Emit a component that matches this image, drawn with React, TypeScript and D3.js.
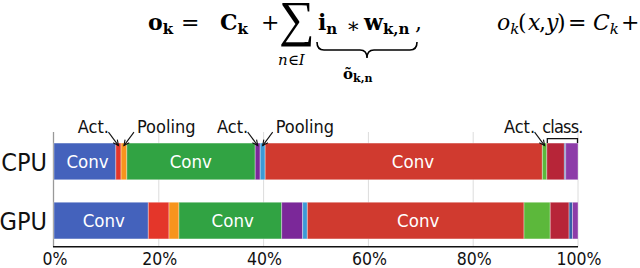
import React from "react";
import * as d3 from "d3";

const categories = ["CPU", "GPU"];
const segmentNames = ["Conv", "Act.", "Pooling", "Conv", "Act.", "Pooling", "Conv", "Act.", "FC", "Drop", "Softmax"];
const cpuValues = [11.8, 1.0, 1.1, 24.5, 0.95, 0.95, 52.9, 0.85, 3.35, 0.25, 2.35];
const gpuValues = [18.0, 3.95, 1.9, 19.6, 4.0, 0.9, 41.35, 5.0, 3.6, 0.65, 1.05];
const segmentColors = ["#4462BC", "#E4362A", "#F7941D", "#31A343", "#7B2899", "#3C9AD5", "#D03A2F", "#5CB83B", "#B72538", "#3761A8", "#8D3CA8"];
const convLabelPosCPU = [6.4, 26.1, 68.5];
const convLabelPosGPU = [9.5, 34.1, 69.5];
const xTicks = [0, 20, 40, 60, 80, 100];
const tickLabels = ["0%", "20%", "40%", "60%", "80%", "100%"];
// annotations on the CPU bar: segment index, side of label (-1 left, +1 right)
const annotations = [
  { label: "Act.", seg: 1, side: -1 },
  { label: "Pooling", seg: 2, side: 1 },
  { label: "Act.", seg: 4, side: -1 },
  { label: "Pooling", seg: 5, side: 1 },
  { label: "Act.", seg: 7, side: -1 },
];
const bracketLabel = "class.";
const bracketFrom = 8;

const W = 640;
const H = 268;
const sans = "'DejaVu Sans Condensed', 'DejaVu Sans', sans-serif";
const serif = "'DejaVu Serif', 'Liberation Serif', serif";

function stack(values: number[]) {
  let acc = 0;
  return values.map((v, i) => {
    const s = { start: acc, end: acc + v, i };
    acc += v;
    return s;
  });
}

export default function App() {
  const x = d3.scaleLinear().domain([0, 100]).range([54, 578]);
  const y = d3.scaleBand<string>().domain(categories).range([133, 249]).paddingInner(0.38).paddingOuter(0.17);
  const rows = [
    { cat: "CPU", segs: stack(cpuValues), labels: convLabelPosCPU },
    { cat: "GPU", segs: stack(gpuValues), labels: convLabelPosGPU },
  ];
  const cpuSegs = rows[0].segs;
  const cpuTop = y("CPU")!;
  const axisY = 246.7;
  const gridTop = 132;

  const arrowHead = (x1: number, y1: number, x2: number, y2: number) => {
    const a = Math.atan2(y2 - y1, x2 - x1);
    const L = 6;
    const sp = 0.45;
    const p1 = [x2 - L * Math.cos(a - sp), y2 - L * Math.sin(a - sp)];
    const p2 = [x2 - L * Math.cos(a + sp), y2 - L * Math.sin(a + sp)];
    return `M${p1[0]},${p1[1]} L${x2},${y2} L${p2[0]},${p2[1]}`;
  };

  const bx0 = x(cpuSegs[bracketFrom].start) + 0.5;
  const bx1 = x(100) - 0.5;
  const fs = 22;
  const sub = 15;

  return (
    <svg width={W} height={H} style={{ position: "absolute", left: 0, top: 0, background: "#fff" }}>
      {/* Formula */}
      <g fontFamily={serif} fill="#000">
        <text x={148} y={30} fontSize={fs} fontWeight="bold">o<tspan fontSize={sub} dy={4}>k</tspan></text>
        <text x={181} y={30} fontSize={fs}>=</text>
        <text x={220} y={30} fontSize={fs} fontWeight="bold">C<tspan fontSize={sub} dy={4}>k</tspan></text>
        <text x={261} y={30} fontSize={fs}>+</text>
        <text x={279} y={36} fontSize={50} fontFamily="'Liberation Serif', serif">∑</text>
        <text x={278} y={65} fontSize={15}><tspan fontStyle="italic">n</tspan>∈<tspan fontStyle="italic">I</tspan></text>
        <text x={318} y={30} fontSize={fs} fontWeight="bold">i<tspan fontSize={sub} dy={4}>n</tspan></text>
        <text x={346} y={33} fontSize={21}>∗</text>
        <text x={364} y={30} fontSize={fs} fontWeight="bold">w<tspan fontSize={sub} dy={4}>k,n</tspan></text>
        <text x={415} y={30} fontSize={fs}>,</text>
        <path d="M317,42 Q317,50 324,50 L360,50 Q367,50 367,58 Q367,50 374,50 L410,50 Q417,50 417,42" fill="none" stroke="#000" strokeWidth={1.6} />
        <text x={343} y={79} fontSize={15} fontWeight="bold">õ<tspan fontSize={11} dy={3}>k,n</tspan></text>
        <text x={497} y={30} fontSize={fs} fontStyle="italic">o<tspan fontSize={sub} dy={4}>k</tspan></text>
        <text x={518} y={30} fontSize={fs}>(</text>
        <text x={528} y={30} fontSize={fs} fontStyle="italic">x</text>
        <text x={539} y={30} fontSize={fs}>,</text>
        <text x={546} y={30} fontSize={fs} fontStyle="italic">y</text>
        <text x={557} y={30} fontSize={fs}>)</text>
        <text x={568} y={30} fontSize={fs}>=</text>
        <text x={593} y={30} fontSize={fs} fontStyle="italic">C<tspan fontSize={sub} dy={4}>k</tspan></text>
        <text x={621} y={30} fontSize={fs}>+</text>
      </g>

      {/* grid */}
      {xTicks.slice(1).map((t) => (
        <line key={t} x1={x(t)} x2={x(t)} y1={gridTop} y2={axisY} stroke="#dcdcdc" strokeWidth={1} />
      ))}
      <line x1={x(0) - 0.5} x2={x(0) - 0.5} y1={gridTop} y2={axisY} stroke="#999" strokeWidth={1.3} />

      {/* bars */}
      {rows.map((r) => (
        <g key={r.cat}>
          {r.segs.map((s) => (
            <rect key={s.i} x={x(s.start)} y={y(r.cat)} width={x(s.end) - x(s.start)} height={y.bandwidth()}
              fill={segmentColors[s.i]} stroke="#fff" strokeOpacity={0.35} strokeWidth={1} />
          ))}
          {r.labels.map((p, k) => (
            <text key={k} x={x(p)} y={y(r.cat)! + y.bandwidth() / 2 + 6.7} textAnchor="middle" fill="#fff"
              fontFamily={sans} fontSize={18.5}>{segmentNames[0]}</text>
          ))}
          <text x={47} y={y(r.cat)! + y.bandwidth() / 2 + 9.5} textAnchor="end" fontFamily={sans} fontSize={25} fill="#111">{r.cat}</text>
        </g>
      ))}

      {/* axis */}
      <line x1={x(0) - 1} x2={x(100)} y1={axisY} y2={axisY} stroke="#111" strokeWidth={1.4} />
      {xTicks.map((t, i) => (
        <text key={t} x={x(t) + 1} y={265} textAnchor="middle" fontFamily={sans} fontSize={17.5} fill="#111">{tickLabels[i]}</text>
      ))}

      {/* annotations */}
      {annotations.map((a, k) => {
        const s = cpuSegs[a.seg];
        const tx = x((s.start + s.end) / 2);
        const ty = cpuTop + 2.5;
        const sx = tx + a.side * 10;
        const sy = cpuTop - 11;
        return (
          <g key={k}>
            <line x1={sx} y1={sy} x2={tx} y2={ty} stroke="#111" strokeWidth={1.1} />
            <path d={arrowHead(sx, sy, tx, ty)} fill="none" stroke="#111" strokeWidth={1.1} />
            <text x={sx + (a.side < 0 ? 0.5 : 3)} y={132.5} textAnchor={a.side < 0 ? "end" : "start"}
              fontFamily={sans} fontSize={18} fill="#111">{a.label}</text>
          </g>
        );
      })}
      <path d={`M${bx0},${cpuTop} L${bx0},${cpuTop - 4.5} L${bx1},${cpuTop - 4.5} L${bx1},${cpuTop}`} fill="none" stroke="#111" strokeWidth={1.3} />
      <text x={(bx0 + bx1) / 2} y={132.5} textAnchor="middle" fontFamily={sans} fontSize={18} fill="#111" letterSpacing={-0.8}>{bracketLabel}</text>
    </svg>
  );
}
